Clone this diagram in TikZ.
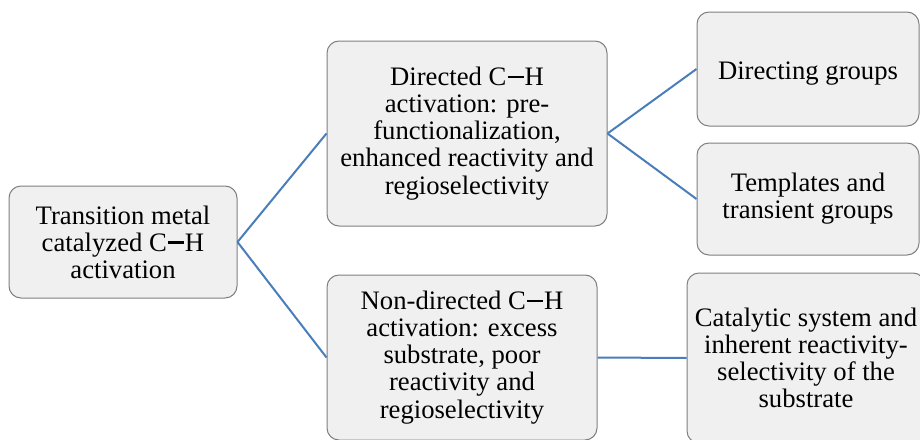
\documentclass[tikz,border=0pt]{standalone}
\usepackage{fontspec}
\setmainfont{Liberation Serif}
\definecolor{linkblue}{HTML}{4A7EBB}
\definecolor{boxgray}{HTML}{F0F0F0}
\definecolor{edgegray}{HTML}{7F7F7F}
\newcommand{\chbond}{\kern0.04em\rule[0.28em]{0.6em}{0.09em}\kern0.04em}

\begin{document}
\begin{tikzpicture}[x=0.75pt, y=-0.75pt,
		box/.style={draw=edgegray, line width=0.75pt, fill=boxgray, rounded corners=9pt,
			align=center, inner sep=0pt, font=\fontsize{20}{20.3}\selectfont,
			execute at begin node={\rule{0pt}{19.5pt}}},
		link/.style={draw=linkblue, line width=1.5pt}]
		\useasboundingbox (0,0) rectangle (920,439);
		% boxes
		\node[box, minimum width=228*0.75pt, minimum height=112*0.75pt] (root) at (123,242)
			{Transition metal\\catalyzed C\chbond H\\activation};
		\node[box, minimum width=280*0.75pt, minimum height=185*0.75pt] (dir) at (467,133.5)
			{Directed C\chbond H\\activation: pre-\\functionalization,\\enhanced reactivity and\\regioselectivity};
		\node[box, minimum width=270*0.75pt, minimum height=165*0.75pt] (nondir) at (462,357.5)
			{Non-directed C\chbond H\\activation: excess\\substrate, poor\\reactivity and\\regioselectivity};
		\node[box, minimum width=222*0.75pt, minimum height=114*0.75pt] (dgroups) at (808,69)
			{Directing groups};
		\node[box, minimum width=222*0.75pt, minimum height=112*0.75pt] (templ) at (808,199)
			{Templates and\\transient groups};
		\node[box, minimum width=238*0.75pt, minimum height=170*0.75pt] (catsys) at (806,358)
			{Catalytic system and\\inherent reactivity-\\selectivity of the\\substrate};
		% links
		\draw[link] (root.east) -- (dir.west);
		\draw[link] (root.east) -- (nondir.west);
		\draw[link] (dir.east) -- (dgroups.west);
		\draw[link] (dir.east) -- (templ.west);
		\draw[link] (nondir.east) -- (catsys.west);
	\end{tikzpicture}
\end{document}
